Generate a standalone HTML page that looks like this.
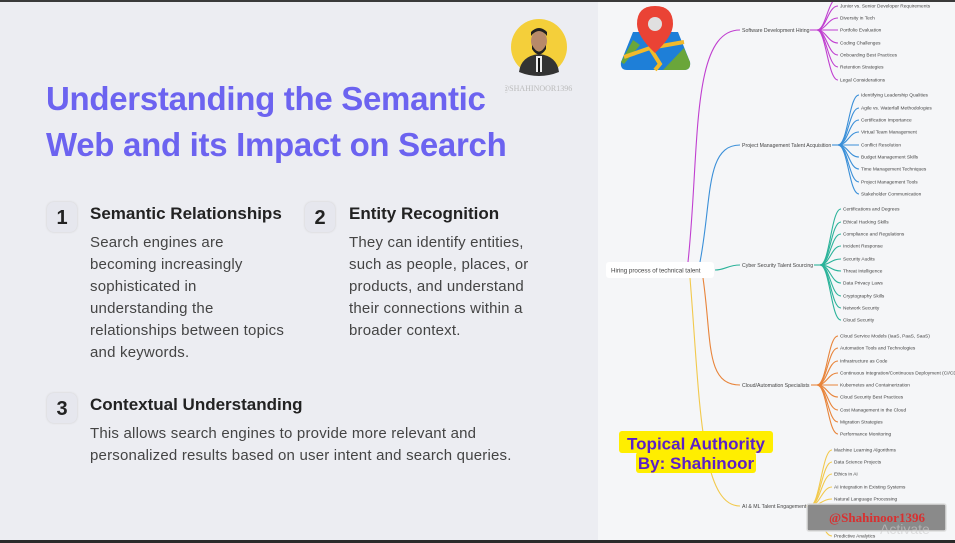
<!DOCTYPE html>
<html><head><meta charset="utf-8"><style>
html,body{margin:0;padding:0;}
body{width:955px;height:543px;position:relative;overflow:hidden;background:#ecedf2;font-family:"Liberation Sans",sans-serif;}
.left{position:absolute;left:0;top:0;width:598px;height:543px;background:#ecedf2;}
.right{position:absolute;left:598px;top:0;width:357px;height:543px;background:#f5f6f8;}
.topbar{position:absolute;left:0;top:0;width:955px;height:2px;background:#3a3a3a;}
.botbar{position:absolute;left:0;top:540px;width:955px;height:3px;background:#2a2a2a;}
h1{position:absolute;left:46px;top:76px;margin:0;font-size:33px;line-height:46px;font-weight:bold;color:#6c63f0;letter-spacing:-0.3px;}
.num{position:absolute;width:30px;height:30px;border-radius:7px;background:#e6e7ee;box-shadow:0 0 2px #ccc;font-weight:bold;font-size:20px;color:#222;text-align:center;line-height:32px;}
.hd{position:absolute;font-weight:bold;font-size:17px;color:#222;}
.bd{position:absolute;font-size:15px;letter-spacing:0.2px;line-height:22px;color:#444;}
</style></head><body>
<div class="left"></div>
<div class="right"></div>
<h1>Understanding the Semantic<br>Web and its Impact on Search</h1>
<svg style="position:absolute;left:505px;top:14px" width="80" height="80">
<circle cx="34" cy="33" r="28" fill="#f4cf3a"/>
<path d="M14 58 Q16 42 34 40 Q52 42 54 58 Q44 62 34 62 Q24 62 14 58Z" fill="#333"/>
<rect x="31" y="42" width="6" height="16" fill="#eee"/><rect x="33" y="44" width="2" height="14" fill="#111"/>
<ellipse cx="34" cy="27" rx="8" ry="10" fill="#b88a6a"/>
<path d="M26 22 Q34 12 42 22 L42 18 Q34 10 26 18Z" fill="#222"/>
<path d="M27 31 Q34 44 41 31 L41 35 Q34 46 27 35Z" fill="#222"/>
<text x="32" y="77" font-size="8" fill="#bbb" text-anchor="middle" font-family="Liberation Serif">@SHAHINOOR1396</text>
</svg>
<div class="num" style="left:47px;top:202px">1</div>
<div class="hd" style="left:90px;top:204px">Semantic Relationships</div>
<div class="bd" style="left:90px;top:232px">Search engines are<br>becoming increasingly<br>sophisticated in<br>understanding the<br>relationships between topics<br>and keywords.</div>
<div class="num" style="left:305px;top:202px">2</div>
<div class="hd" style="left:349px;top:204px">Entity Recognition</div>
<div class="bd" style="left:349px;top:232px">They can identify entities,<br>such as people, places, or<br>products, and understand<br>their connections within a<br>broader context.</div>
<div class="num" style="left:47px;top:393px">3</div>
<div class="hd" style="left:90px;top:395px">Contextual Understanding</div>
<div class="bd" style="left:90px;top:423px">This allows search engines to provide more relevant and<br>personalized results based on user intent and search queries.</div>

<svg style="position:absolute;left:0;top:0" width="955" height="543" font-family="Liberation Sans, sans-serif" font-size="4.8" fill="#444">
<g fill="none" stroke-width="1.1">
<path d="M688 262 C700 150, 690 30, 740 30" stroke="#c03fd0"/>
<path d="M700 262 C712 200, 705 145, 740 145" stroke="#3a8fd8"/>
<path d="M715 270 C725 270, 728 265, 740 265" stroke="#2bb39a"/>
<path d="M703 278 C712 340, 705 385, 740 385" stroke="#e8843a"/>
<path d="M690 278 C700 400, 700 506, 740 506" stroke="#f2c94c"/>
<g stroke="#c03fd0">
<path d="M810 30 L817 30"/>
<path d="M817 30 C826 30,828 -2,838 -2"/><path d="M817 30 C826 30,828 6,838 6"/><path d="M817 30 C826 30,828 18,838 18"/><path d="M817 30 L838 30"/><path d="M817 30 C826 30,828 43,838 43"/><path d="M817 30 C826 30,828 55,838 55"/><path d="M817 30 C826 30,828 67,838 67"/><path d="M817 30 C826 30,828 80,838 80"/>
</g>
<g stroke="#3a8fd8">
<path d="M832 145 L838 145"/>
<path d="M838 145 C848 145,849 95,859 95"/><path d="M838 145 C848 145,849 108,859 108"/><path d="M838 145 C848 145,849 120,859 120"/><path d="M838 145 C848 145,849 132,859 132"/><path d="M838 145 L859 145"/><path d="M838 145 C848 145,849 157,859 157"/><path d="M838 145 C848 145,849 169,859 169"/><path d="M838 145 C848 145,849 182,859 182"/><path d="M838 145 C848 145,849 194,859 194"/>
</g>
<g stroke="#2bb39a">
<path d="M814 265 L820 265"/>
<path d="M820 265 C830 265,831 209,841 209"/><path d="M820 265 C830 265,831 222,841 222"/><path d="M820 265 C830 265,831 234,841 234"/><path d="M820 265 C830 265,831 246,841 246"/><path d="M820 265 C830 265,831 259,841 259"/><path d="M820 265 C830 265,831 271,841 271"/><path d="M820 265 C830 265,831 283,841 283"/><path d="M820 265 C830 265,831 296,841 296"/><path d="M820 265 C830 265,831 308,841 308"/><path d="M820 265 C830 265,831 320,841 320"/>
</g>
<g stroke="#e8843a">
<path d="M811 385 L817 385"/>
<path d="M817 385 C827 385,828 336,838 336"/><path d="M817 385 C827 385,828 348,838 348"/><path d="M817 385 C827 385,828 361,838 361"/><path d="M817 385 C827 385,828 373,838 373"/><path d="M817 385 L838 385"/><path d="M817 385 C827 385,828 397,838 397"/><path d="M817 385 C827 385,828 410,838 410"/><path d="M817 385 C827 385,828 422,838 422"/><path d="M817 385 C827 385,828 434,838 434"/>
</g>
<g stroke="#f2c94c">
<path d="M806 506 L810 506"/>
<path d="M810 506 C820 506,822 450,832 450"/><path d="M810 506 C820 506,822 462,832 462"/><path d="M810 506 C820 506,822 474,832 474"/><path d="M810 506 C820 506,822 487,832 487"/><path d="M810 506 C820 506,822 499,832 499"/><path d="M810 506 C820 506,822 511,832 511"/><path d="M810 506 C820 506,822 523,832 523"/><path d="M810 506 C820 506,822 536,832 536"/>
</g>
</g>
<rect x="606" y="262" width="108" height="16" rx="3" fill="#fff"/>
<text x="611" y="272.5" font-size="6.2" fill="#444">Hiring process of technical talent</text>
<g font-size="5.2">
<text x="742" y="32">Software Development Hiring</text>
<text x="742" y="147">Project Management Talent Acquisition</text>
<text x="742" y="267">Cyber Security Talent Sourcing</text>
<text x="742" y="387">Cloud/Automation Specialists</text>
<text x="742" y="508">AI &amp; ML Talent Engagement</text>
</g>
<g>
<text x="840" y="7.5">Junior vs. Senior Developer Requirements</text>
<text x="840" y="19.5">Diversity in Tech</text>
<text x="840" y="31.5">Portfolio Evaluation</text>
<text x="840" y="44.5">Coding Challenges</text>
<text x="840" y="56.5">Onboarding Best Practices</text>
<text x="840" y="68.5">Retention Strategies</text>
<text x="840" y="81.5">Legal Considerations</text>
<text x="861" y="96.5">Identifying Leadership Qualities</text>
<text x="861" y="109.5">Agile vs. Waterfall Methodologies</text>
<text x="861" y="121.5">Certification Importance</text>
<text x="861" y="133.5">Virtual Team Management</text>
<text x="861" y="146.5">Conflict Resolution</text>
<text x="861" y="158.5">Budget Management Skills</text>
<text x="861" y="170.5">Time Management Techniques</text>
<text x="861" y="183.5">Project Management Tools</text>
<text x="861" y="195.5">Stakeholder Communication</text>
<text x="843" y="210.5">Certifications and Degrees</text>
<text x="843" y="223.5">Ethical Hacking Skills</text>
<text x="843" y="235.5">Compliance and Regulations</text>
<text x="843" y="247.5">Incident Response</text>
<text x="843" y="260.5">Security Audits</text>
<text x="843" y="272.5">Threat Intelligence</text>
<text x="843" y="284.5">Data Privacy Laws</text>
<text x="843" y="297.5">Cryptography Skills</text>
<text x="843" y="309.5">Network Security</text>
<text x="843" y="321.5">Cloud Security</text>
<text x="840" y="337.5">Cloud Service Models (IaaS, PaaS, SaaS)</text>
<text x="840" y="349.5">Automation Tools and Technologies</text>
<text x="840" y="362.5">Infrastructure as Code</text>
<text x="840" y="374.5">Continuous Integration/Continuous Deployment (CI/CD)</text>
<text x="840" y="386.5">Kubernetes and Containerization</text>
<text x="840" y="398.5">Cloud Security Best Practices</text>
<text x="840" y="411.5">Cost Management in the Cloud</text>
<text x="840" y="423.5">Migration Strategies</text>
<text x="840" y="435.5">Performance Monitoring</text>
<text x="834" y="451.5">Machine Learning Algorithms</text>
<text x="834" y="463.5">Data Science Projects</text>
<text x="834" y="475.5">Ethics in AI</text>
<text x="834" y="488.5">AI Integration in Existing Systems</text>
<text x="834" y="500.5">Natural Language Processing</text>
<text x="834" y="537.5">Predictive Analytics</text>
</g>
<!-- map icon -->
<path d="M633 32 L678 32 L690 62 Q691 70 684 70 L627 70 Q620 70 621 62 Z" fill="#1e7fd8"/>
<path d="M621 62 L633 40 L640 45 L624 64 Z" fill="#6aa63a"/>
<path d="M663 70 L684 48 L690 62 Q691 70 684 70 Z" fill="#6aa63a"/>
<path d="M624 57 L650 48 L660 64 L655 70 M650 48 L684 42" stroke="#f2b92a" stroke-width="4" fill="none"/>
<path d="M655 6 Q673 6 673 24 Q673 36 655 53 Q637 36 637 24 Q637 6 655 6Z" fill="#ea4335"/>
<circle cx="655" cy="24" r="7" fill="#e0e0e0"/>
<!-- topical authority -->
<rect x="619" y="431" width="154" height="22" rx="3" fill="#ffee00"/>
<rect x="636" y="452" width="120" height="21" rx="3" fill="#ffee00"/>
<text x="696" y="449.5" font-size="17" font-weight="bold" fill="#5b1fc9" text-anchor="middle">Topical Authority</text>
<text x="696" y="469" font-size="17" font-weight="bold" fill="#5b1fc9" text-anchor="middle">By: Shahinoor</text>
<!-- watermark -->
<rect x="807" y="504" width="139" height="27" rx="2" fill="#8a8a8a" stroke="#ddd" stroke-width="1.5"/>
<text x="877" y="522" font-size="13" font-weight="bold" fill="#d83030" text-anchor="middle" font-family="Liberation Serif, serif">@Shahinoor1396</text>
<text x="880" y="534" font-size="14" fill="#ccc" opacity="0.6">Activate</text>
</svg>
<div class="topbar"></div>
<div class="botbar"></div>
</body></html>
